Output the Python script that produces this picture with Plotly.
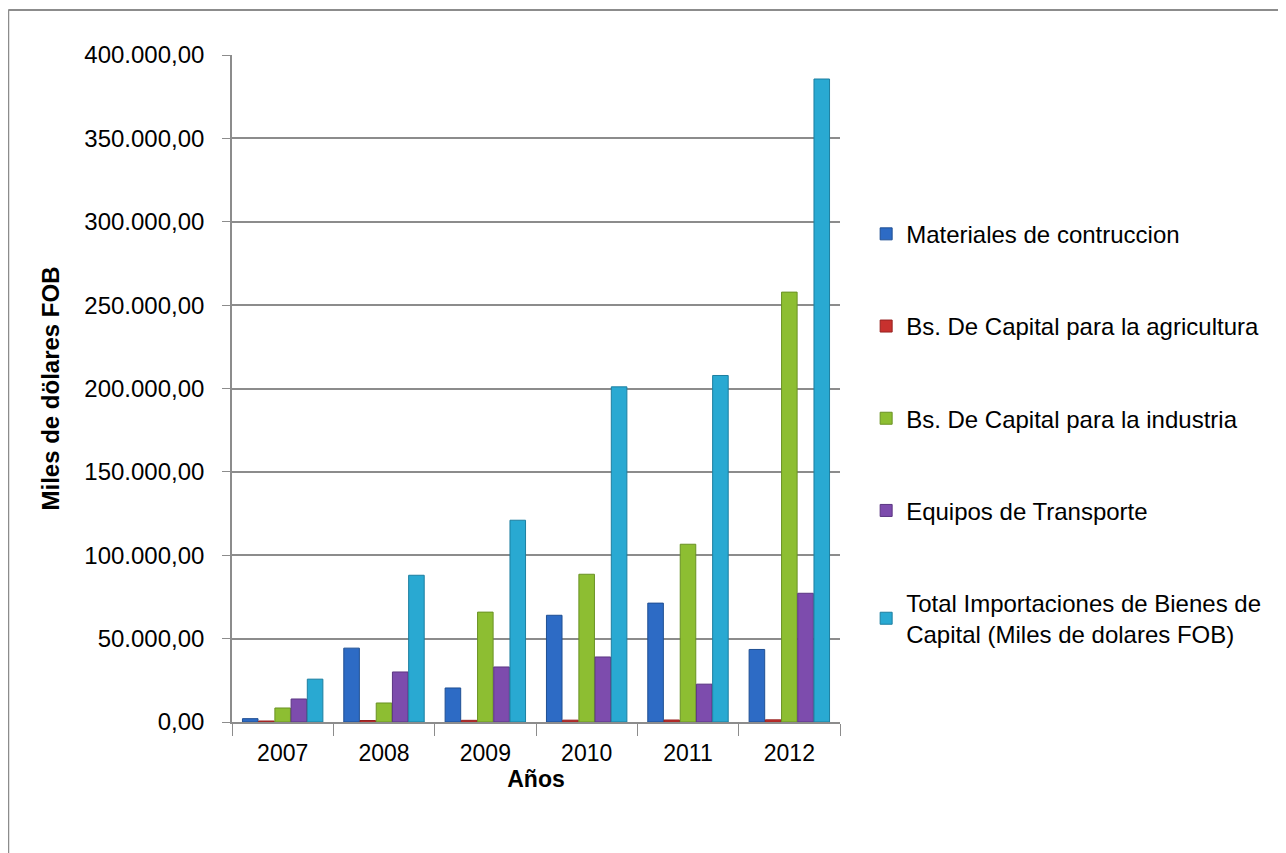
import plotly.graph_objects as go

years = ["2007", "2008", "2009", "2010", "2011", "2012"]
materiales = [2000, 44300, 20400, 64000, 71300, 43500]
agricultura = [600, 900, 1000, 1100, 1200, 1300]
industria = [8400, 11400, 65900, 88600, 106600, 257800]
transporte = [13800, 30000, 33000, 39000, 22700, 77200]
total = [25700, 88000, 121000, 201000, 207800, 385600]

series_names = [
    "Materiales de contruccion",
    "Bs. De Capital para la agricultura",
    "Bs. De Capital para la industria",
    "Equipos de Transporte",
    "Total Importaciones de Bienes de<br>Capital (Miles de dolares FOB)",
]
series_values = [materiales, agricultura, industria, transporte, total]
colors = ["#2D6BC5", "#C8312E", "#8DBE32", "#7D4CAD", "#29A9D2"]
edges = ["#1F4F93", "#962220", "#6A9224", "#5B3682", "#1D7FA0"]

fig = go.Figure()
for i, (name, vals) in enumerate(zip(series_names, series_values)):
    fig.add_trace(go.Bar(
        x=years, y=vals, name=name,
        marker=dict(color=colors[i], line=dict(color=edges[i], width=1)),
        legendgroup="g%d" % i,
    ))

FONT = "Liberation Sans"
fig.update_layout(
    width=1286, height=853,
    margin=dict(l=224, r=454, t=47, b=139, autoexpand=False),
    paper_bgcolor="white", plot_bgcolor="white",
    separators=",.",
    barmode="group", bargap=0.2, bargroupgap=0.04,
    font=dict(family=FONT, size=22, color="#000000"),
    legend=dict(
        x=1.043, y=0.765, xanchor="left", yanchor="top",
        font=dict(family=FONT, size=24, color="#000000"),
        traceorder="grouped", tracegroupgap=58,
        itemwidth=30,
    ),
    showlegend=True,
)
fig.update_yaxes(
    range=[0, 400000], dtick=50000, tickformat=",.2f",
    showgrid=True, gridcolor="#8C8C8C", gridwidth=1.5,
    showline=True, linecolor="#8C8C8C", linewidth=1.5,
    ticks="outside", ticklen=8, tickcolor="#8C8C8C",
    ticklabelstandoff=13,
    tickfont=dict(family=FONT, size=24),
    title=dict(text="<b>Miles de dölares FOB</b>", font=dict(family=FONT, size=24), standoff=18),
    zeroline=False, automargin=False,
)
fig.update_xaxes(
    showline=True, linecolor="#8C8C8C", linewidth=1.5,
    ticks="outside", ticklen=12, tickcolor="#8C8C8C", tickson="boundaries",
    ticklabelstandoff=10,
    tickfont=dict(family=FONT, size=23),
    title=dict(text="<b>Años</b>", font=dict(family=FONT, size=23), standoff=5),
    automargin=False,
)
# outer chart frame
fig.add_shape(type="line", xref="paper", yref="paper",
              x0=-0.368, x1=-0.368, y0=-0.25, y1=1.0675,
              line=dict(color="#8C8C8C", width=2))
fig.add_shape(type="line", xref="paper", yref="paper",
              x0=-0.368, x1=1.8, y0=1.0675, y1=1.0675,
              line=dict(color="#8C8C8C", width=2))

fig.write_html("out.html")
